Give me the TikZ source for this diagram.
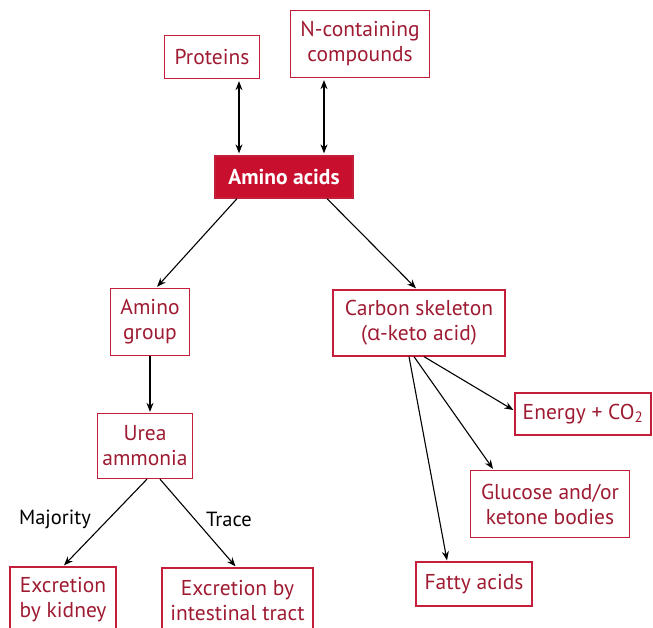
\documentclass[tikz,border=0pt]{standalone}
\usepackage{fontspec}
\setmainfont{PT Sans}
\newfontfamily\grk{Open Sans}
\usetikzlibrary{arrows.meta,calc}
\definecolor{boxred}{HTML}{C41E3A}
\definecolor{txtred}{HTML}{9E1B32}
\definecolor{aafill}{HTML}{C8102E}
\tikzset{
  bx/.style={draw=boxred, line width=1.3pt, text=txtred, align=center, inner sep=0pt,
    font=\fontsize{21.5}{25}\selectfont},
  aabx/.style={bx, fill=aafill, text=white, font=\fontsize{21.5}{25}\selectfont\bfseries},
  arr/.style={line width=1.1pt, -{Stealth[length=9pt,width=7pt]}},
  darr/.style={line width=1.1pt, {Stealth[length=9pt,width=7pt]}-{Stealth[length=9pt,width=7pt]}},
  lbl/.style={font=\fontsize{20.5}{24}\selectfont, text=black}
}
\begin{document}
\begin{tikzpicture}[x=1pt,y=-1pt]
\useasboundingbox (0,0) rectangle (653,628);
\node[bx, minimum width=95pt, minimum height=43pt] (prot) at (212,57) {Proteins};
\node[bx, minimum width=139pt, minimum height=67pt] (ncomp) at (360,44) {N-containing\\compounds};
\node[aabx, minimum width=138pt, minimum height=42pt] (aa) at (284,177) {Amino acids};
\node[bx, minimum width=79pt, minimum height=67pt] (agroup) at (150,322) {Amino\\group};
\node[bx, minimum width=172pt, minimum height=66pt] (carbon) at (419,323) {Carbon skeleton\\({\grk α}-keto acid)};
\node[bx, minimum width=95pt, minimum height=65pt] (urea) at (145,446) {Urea\\ammonia};
\node[bx, minimum width=136pt, minimum height=42pt] (energy) at (583,414) {Energy + CO\textsubscript{2}};
\node[bx, minimum width=159pt, minimum height=67pt] (glucose) at (550,504) {Glucose and/or\\ketone bodies};
\node[bx, minimum width=116pt, minimum height=44pt] (fatty) at (474,584) {Fatty acids};
\node[bx, minimum width=106pt, minimum height=66pt] (kidney) at (63,600) {Excretion\\by kidney};
\node[bx, minimum width=151pt, minimum height=66pt] (intest) at (237.5,601) {Excretion by\\intestinal tract};
\node[lbl] (maj) at (55,519) {Majority};
\node[lbl] (trace) at (229,519) {Trace};
\draw[darr] ($(prot.south)+(27,2)$) -- ($(aa.north)+(-45,-2)$);
\draw[darr] ($(ncomp.south)+(-36,2)$) -- ($(aa.north)+(40,-2)$);
\draw[arr] ($(aa.south)+(-47,0)$) -- ($(agroup.north)+(7,-1)$);
\draw[arr] ($(aa.south)+(43,0)$) -- ($(carbon.north)+(-3,-1)$);
\draw[arr] (agroup.south) -- ($(urea.north)+(5,-1)$);
\draw[arr] ($(urea.south)+(2,0)$) -- ($(kidney.north)+(1,-1)$);
\draw[arr] ($(urea.south)+(15,0)$) -- ($(intest.north)+(-2,-1)$);
\draw[arr] ($(carbon.south)+(5,0)$) -- ($(energy.west)+(-1,-4)$);
\draw[arr] ($(carbon.south)+(-5,0)$) -- ($(glucose.north)+(-57,-1)$);
\draw[arr] ($(carbon.south)+(-10,0)$) -- ($(fatty.north)+(-27,-1)$);
\end{tikzpicture}
\end{document}
